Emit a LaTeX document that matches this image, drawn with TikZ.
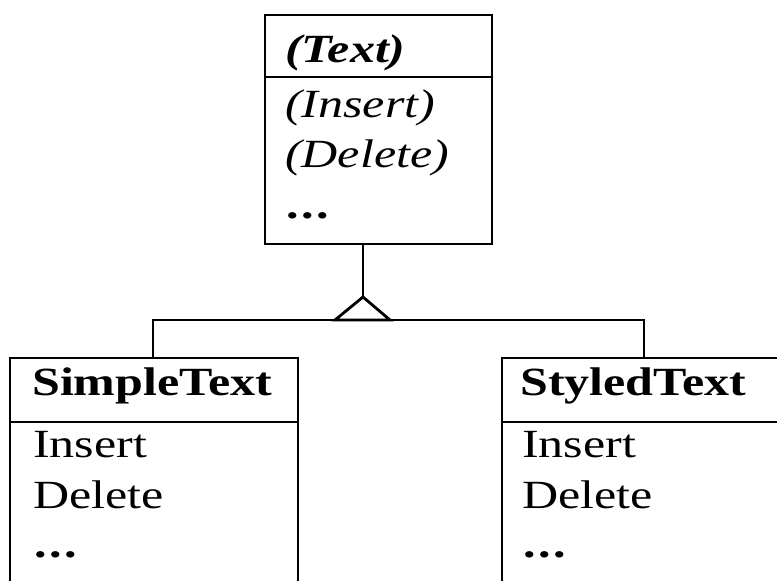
\documentclass[tikz,border=0pt]{standalone}
\usepackage{fontspec}
\setmainfont{Liberation Serif}[FakeStretch=1.25]
\newcommand{\mydots}{.\kern2.5pt.\kern2.5pt.}
\begin{document}
\begin{tikzpicture}[x=1pt,y=-1pt,
  box/.style={draw=black,line width=2.8pt,rectangle,inner sep=0pt,outer sep=0pt},
  conn/.style={draw=black,line width=2.8pt,line join=miter},
  lbl/.style={anchor=base west,inner sep=0pt,font=\fontsize{40}{50}\selectfont}]
\useasboundingbox (0,0) rectangle (777,581);
\fill[white] (0,0) rectangle (777,581);
\clip (0,0) rectangle (777,581);
% class boxes
\node[box,minimum width=227pt,minimum height=229pt] (textc) at (378.5,129.5) {};
\node[box,minimum width=288pt,minimum height=262pt] (simple) at (154,489) {};
\node[box,minimum width=298pt,minimum height=262pt] (styled) at (651,489) {};
% separators
\draw[conn] (textc.west |- 0,77) -- (textc.east |- 0,77);
\draw[conn] (simple.west |- 0,422) -- (simple.east |- 0,422);
\draw[conn] (styled.west |- 0,422) -- (styled.east |- 0,422);
% texts
\node[lbl] (t1) at (285,62) {\textbf{\textit{(Text)}}};
\node[lbl] (t2) at (285,117) {\textit{(Insert)}};
\node[lbl] (t3) at (285,167) {\textit{(Delete)}};
\node[lbl] (t4) at (286,218) {\textbf{\mydots}};
\node[lbl] (s1) at (32,395) {\textbf{SimpleText}};
\node[lbl] (s2) at (33,457) {Insert};
\node[lbl] (s3) at (33,508) {Delete};
\node[lbl] (s4) at (34,557) {\textbf{\mydots}};
\node[lbl] (y1) at (520,395) {\textbf{StyledText}};
\node[lbl] (y2) at (522,457) {Insert};
\node[lbl] (y3) at (522,508) {Delete};
\node[lbl] (y4) at (523,557) {\textbf{\mydots}};
% inheritance connector
\coordinate (apex) at (363,297);
\coordinate (bl) at (335,320);
\coordinate (br) at (390,320);
\coordinate (lv) at (153,320);
\coordinate (rv) at (644,320);
\draw[conn] (textc.south -| apex) -- (apex);
\draw[conn] (apex) -- (bl) -- (br) -- cycle;
\draw[conn] (simple.north -| lv) -- (lv) -- (rv) -- (styled.north -| rv);
\end{tikzpicture}
\end{document}
